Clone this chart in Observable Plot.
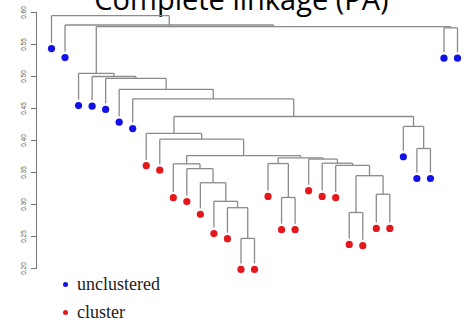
<!DOCTYPE html>
<html><head><meta charset="utf-8">
<script src="https://cdn.jsdelivr.net/npm/d3@7"></script>
<script src="https://cdn.jsdelivr.net/npm/@observablehq/plot@0.6"></script>
<style>
html,body{margin:0;padding:0;background:#fff;}
#wrap{position:relative;width:465px;height:324px;overflow:hidden;}
#title{position:absolute;left:0;top:-16px;width:465px;padding-left:18px;box-sizing:border-box;text-align:center;font-family:"Open Sans";font-size:29px;line-height:29px;color:#000;white-space:nowrap;}
#chart{position:absolute;left:0;top:0;}
.lg{position:absolute;left:63px;font-family:"Liberation Serif";font-size:18px;line-height:18px;color:#222;white-space:nowrap;}
.lg span.d{display:inline-block;width:5px;height:5px;border-radius:50%;margin-right:9px;vertical-align:middle;position:relative;top:-1px;}
</style></head>
<body>
<div id="wrap">
  <div id="title"></div>
  <div id="chart"></div>
</div>
<script>
const titleText = "Complete linkage (PA)";
const groups = ["unclustered", "cluster"];
const groupColors = ["#1212e8", "#e5161c"];
// leaf heights, left to right (leaf order 1..31)
const leafHeights = [0.553,0.539,0.464,0.463,0.458,0.438,0.428,0.370,0.363,0.320,0.314,0.294,0.264,0.256,0.208,0.208,0.322,0.270,0.270,0.331,0.322,0.320,0.247,0.245,0.272,0.272,0.384,0.350,0.350,0.538,0.538];
const leafGroups = ["unclustered","unclustered","unclustered","unclustered","unclustered","unclustered","unclustered",
  "cluster","cluster","cluster","cluster","cluster","cluster","cluster","cluster","cluster","cluster","cluster","cluster","cluster","cluster","cluster","cluster","cluster","cluster","cluster",
  "unclustered","unclustered","unclustered","unclustered","unclustered"];
// hclust-style merge table: negative = leaf, positive = earlier merge (1-based)
const mergeLeft  = [-15,-23,-14,-13,-18,-25,-12, 2,-11,-22,-10,-17,-21,-20,12,11,-28,-9,-8,-27,19,-7,-6,-5,-4,-3,-30,26,-2,-1];
const mergeRight = [-16,-24,  1,  3,-19,-26,  4, 6,  7,  8,  9,  5, 10, 13,14,15,-29,16,18, 17,20,21,22,23,24,25,-31,27,28,29];
const mergeHeight = [0.247,0.2875,0.295,0.305,0.311,0.316,0.334,0.345,0.356,0.361,0.3635,0.364,0.3645,0.371,0.373,0.3765,0.3875,0.402,0.411,0.422,0.4375,0.465,0.480,0.497,0.500,0.505,0.576,0.578,0.5805,0.595];
const yTicks = [0.20,0.25,0.30,0.35,0.40,0.45,0.50,0.55,0.60];

document.getElementById("title").textContent = titleText;

const leaves = leafHeights.map((h,i)=>({i:i+1, h, g:leafGroups[i]}));
const nodeX = [], nodeH = [];
const posOf = c => c < 0 ? -c : nodeX[c-1];
const hOf = c => c < 0 ? leafHeights[-c-1] : nodeH[c-1];
const segs = [];
mergeHeight.forEach((h,k)=>{
  const a = mergeLeft[k], b = mergeRight[k];
  const xa = posOf(a), xb = posOf(b);
  segs.push({x1:xa,y1:h,x2:xb,y2:h});
  segs.push({x1:xa,y1:h,x2:xa,y2:hOf(a)});
  segs.push({x1:xb,y1:h,x2:xb,y2:hOf(b)});
  nodeX[k] = (xa+xb)/2; nodeH[k] = h;
});

const chart = Plot.plot({
  width: 465, height: 280,
  marginTop: 12, marginBottom: 12, marginLeft: 36, marginRight: 8,
  x: {domain:[1,31], insetLeft: 15, axis: null},
  y: {domain:[0.2,0.6]},
  color: {domain: groups, range: groupColors},
  style: {background:"transparent", overflow:"visible"},
  marks: [
    Plot.frame({anchor:"left", stroke:"#777", strokeWidth:1}),
    Plot.axisY({ticks: yTicks, tickFormat: d=>d.toFixed(2), tickSize: 5, tickRotate: -90, tickPadding: 6, fontSize: 6.5, fontFamily: "Liberation Sans", stroke: "#777", fill: "#555", label: null}),
    Plot.link(segs, {x1:"x1", y1:"y1", x2:"x2", y2:"y2", stroke:"#8a8a8a", strokeWidth:1.3}),
    Plot.dot(leaves, {x:"i", y:"h", fill:"g", r:3.6, dy:6})
  ]
});
document.getElementById("chart").appendChild(chart);

const wrap = document.getElementById("wrap");
const legendTops = [275, 303];
groups.forEach((g,i)=>{
  const div = document.createElement("div");
  div.className = "lg";
  div.style.top = legendTops[i] + "px";
  const s = document.createElement("span");
  s.className = "d"; s.style.background = groupColors[i];
  div.appendChild(s);
  div.appendChild(document.createTextNode(g));
  wrap.appendChild(div);
});
</script>
</body></html>
